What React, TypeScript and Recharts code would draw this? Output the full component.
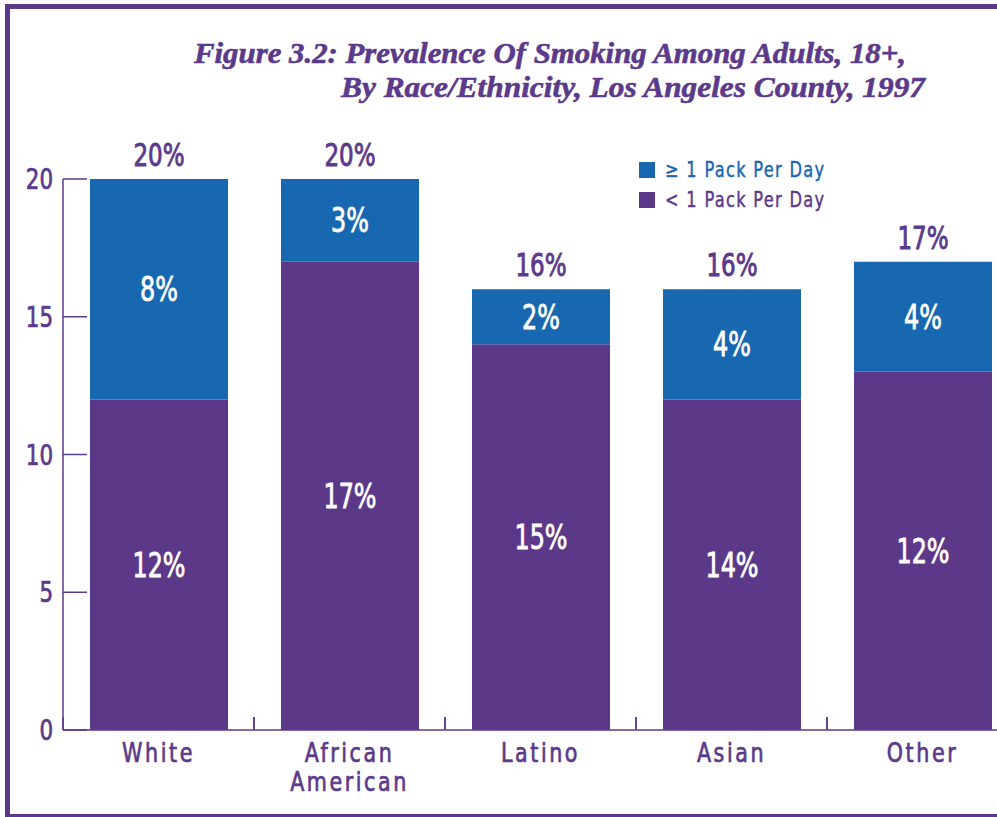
import React from 'react';
import { BarChart, Bar, XAxis, YAxis, LabelList } from 'recharts';

const CATEGORIES = ['White', 'African American', 'Latino', 'Asian', 'Other'];
const LESS_THAN_ONE = [12, 17, 14, 12, 13];
const AT_LEAST_ONE = [8, 3, 2, 4, 4];
const LESS_LABELS = ['12%', '17%', '15%', '14%', '12%'];
const AT_LEAST_LABELS = ['8%', '3%', '2%', '4%', '4%'];
const TOTAL_LABELS = ['20%', '20%', '16%', '16%', '17%'];
const Y_TICKS = [0, 5, 10, 15, 20];
const SERIES_LESS = '< 1 Pack Per Day';
const SERIES_MORE = '\u2265 1 Pack Per Day';
const TITLE_LINES = [
  'Figure 3.2: Prevalence Of Smoking Among Adults, 18+,',
  'By Race/Ethnicity, Los Angeles County, 1997',
];

const PURPLE = '#5C3889';
const BLUE = '#1767B1';
const TEXT_PURPLE = '#5B398B';
const NARROW = "'DejaVu Sans Condensed', 'DejaVu Sans', sans-serif";

const LEGEND_ITEMS = [
  { name: SERIES_MORE, color: BLUE },
  { name: SERIES_LESS, color: PURPLE },
];

const data = CATEGORIES.map((c, i) => ({
  category: c,
  less: LESS_THAN_ONE[i],
  more: AT_LEAST_ONE[i],
}));

const NText = (p: any) => {
  const { x, y, sx = 0.8, children, anchor = 'middle', fill, sw = 0.7, ...rest } = p;
  return (
    <text transform={`translate(${x},${y}) scale(${sx},1)`} x={0} y={0} textAnchor={anchor}
      fontFamily={NARROW} fill={fill} stroke={fill} strokeWidth={sw} {...rest}>
      {children}
    </text>
  );
};

const YTick = (props: any) => {
  const { x, y, payload } = props;
  return (
    <g>
      <line x1={x} x2={x + 24} y1={y} y2={y} stroke={TEXT_PURPLE} strokeWidth={1.5} />
      <NText x={x - 10} y={y + 10} anchor="end" sx={0.85} fill={TEXT_PURPLE} fontSize={28}>
        {payload.value}
      </NText>
    </g>
  );
};

const XTick = (props: any) => {
  const { x, y, payload } = props;
  const half = payload.offset ?? 95.5;
  const lines = String(payload.value).split(' ');
  return (
    <g>
      <line x1={x - half} x2={x - half} y1={y} y2={y - 13} stroke={TEXT_PURPLE} strokeWidth={1.5} />
      <line x1={x + half} x2={x + half} y1={y} y2={y - 13} stroke={TEXT_PURPLE} strokeWidth={1.5} />
      {lines.map((l, i) => (
        <NText key={i} x={x} y={y + 32 + i * 29} sx={0.85} fill={TEXT_PURPLE}
          fontSize={27} letterSpacing={3}>
          {l}
        </NText>
      ))}
    </g>
  );
};

const innerLabel = (labels: string[]) => (props: any) => {
  const { x, y, width, height, index } = props;
  return (
    <NText x={x + width / 2} y={y + height / 2 + 12} sx={0.78} fill="#ffffff" fontSize={34} sw={0.8}>
      {labels[index]}
    </NText>
  );
};

const totalLabel = (props: any) => {
  const { x, y, width, index } = props;
  return (
    <NText x={x + width / 2} y={y - 13} sx={0.8} fill={TEXT_PURPLE} fontSize={32} sw={0.9}>
      {TOTAL_LABELS[index]}
    </NText>
  );
};

export default function App() {
  return (
    <div style={{ position: 'absolute', left: 0, top: 0, width: 997, height: 817, overflow: 'hidden', background: '#fff' }}>
      <div style={{ position: 'absolute', left: 5, top: 4, width: 1100, height: 805, border: `5px solid ${PURPLE}` }} />
      <div style={{ position: 'absolute', left: 0, top: 0 }}>
        <BarChart width={1030} height={817} data={data} margin={{ top: 179, right: 12, bottom: 27, left: 13 }}
          barSize={138}>
          <XAxis dataKey="category" height={60} tickSize={0} tickMargin={0} tickLine={false}
            axisLine={{ stroke: TEXT_PURPLE, strokeWidth: 1.5 }} tick={<XTick />} interval={0} />
          <YAxis domain={[0, 20]} ticks={Y_TICKS} width={50} tickSize={0} tickMargin={0} tickLine={false}
            axisLine={{ stroke: TEXT_PURPLE, strokeWidth: 1.5 }} tick={<YTick />} />
          <Bar dataKey="less" name={SERIES_LESS} stackId="a" fill={PURPLE} isAnimationActive={false}>
            <LabelList dataKey="less" content={innerLabel(LESS_LABELS)} />
          </Bar>
          <Bar dataKey="more" name={SERIES_MORE} stackId="a" fill={BLUE} isAnimationActive={false}>
            <LabelList dataKey="more" content={innerLabel(AT_LEAST_LABELS)} />
            <LabelList dataKey="more" content={totalLabel} />
          </Bar>
        </BarChart>
      </div>
      <svg style={{ position: 'absolute', left: 0, top: 0 }} width={997} height={220}>
        <text x={194} y={63} textLength={712} lengthAdjust="spacingAndGlyphs" fill={TEXT_PURPLE}
          stroke={TEXT_PURPLE} strokeWidth={0.6}
          fontFamily="'Liberation Serif', serif" fontStyle="italic" fontWeight="bold" fontSize={30}>
          {TITLE_LINES[0]}
        </text>
        <text x={341} y={97} textLength={584} lengthAdjust="spacingAndGlyphs" fill={TEXT_PURPLE}
          stroke={TEXT_PURPLE} strokeWidth={0.6}
          fontFamily="'Liberation Serif', serif" fontStyle="italic" fontWeight="bold" fontSize={30}>
          {TITLE_LINES[1]}
        </text>
        {LEGEND_ITEMS.map((it, i) => (
          <g key={i}>
            <rect x={639} y={162 + i * 30} width={16} height={16} fill={it.color} />
            <NText x={665} y={177 + i * 30} anchor="start" sx={0.86} fill={it.color} fontSize={21}
              letterSpacing={1.5} sw={0.4}>
              {it.name}
            </NText>
          </g>
        ))}
      </svg>
    </div>
  );
}
